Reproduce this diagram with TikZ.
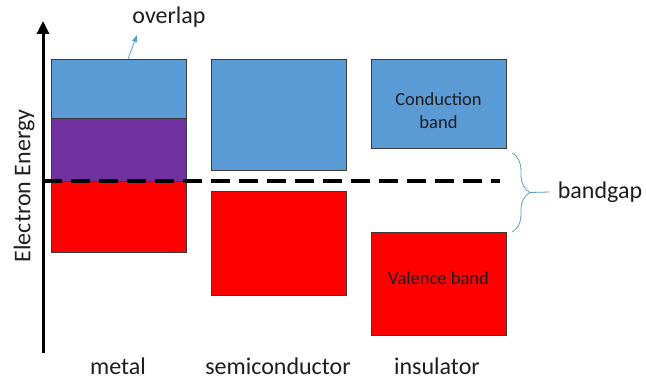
\documentclass[tikz,border=0pt]{standalone}
\usepackage{fontspec}
\setmainfont{Carlito}
\usetikzlibrary{arrows.meta,decorations.pathreplacing,calc}
\definecolor{cband}{HTML}{5B9BD5}
\definecolor{vband}{HTML}{FF0000}
\definecolor{oband}{HTML}{7030A0}
\definecolor{edge}{HTML}{3A3A3A}
\definecolor{txt}{HTML}{1E1E1E}
\tikzset{
  band/.style={draw=edge, line width=0.9pt, inner sep=0pt, minimum width=135pt, text=txt, font=\fontsize{18.5}{23}\selectfont, align=center},
  lbl/.style={text=txt, font=\fontsize{24}{28}\selectfont, inner sep=0pt},
  accent/.style={draw=cband, line width=0.8pt}
}
\begin{document}
\begin{tikzpicture}[x=1pt,y=-1pt]
  \useasboundingbox (0,0) rectangle (646,379);
  % metal: conduction band, overlap region, valence band
  \node[band, fill=cband, minimum height=59pt] (mc) at (118.5,88.5) {};
  \node[band, fill=oband, minimum height=63pt] (mo) at (118.5,149.5) {};
  \node[band, fill=vband, minimum height=71pt] (mv) at (118.5,216.5) {};
  % semiconductor
  \node[band, fill=cband, minimum height=111pt] (sc) at (278.5,114.5) {};
  \node[band, fill=vband, minimum height=104pt] (sv) at (278.5,243) {};
  % insulator
  \node[band, fill=cband, minimum height=89pt] (ic) at (438.5,103.5) {};
  \node[band, fill=vband, minimum height=103pt] (iv) at (438.5,283.5) {};
  \node[band, draw=none, anchor=center] (ict) at (438.5,111) {Conduction\\band};
  \node[band, draw=none, anchor=center] (ivt) at (438.5,278) {Valence band};
  % energy axis
  \coordinate (a0) at (43,353);
  \coordinate (a1) at (43,21);
  \draw[line width=3pt, -{Triangle[length=13pt,width=12pt]}] (a0) -- (a1);
  \node[lbl, rotate=90] (axl) at (24,186) {Electron Energy};
  % Fermi level
  \coordinate (f0) at (43,181);
  \coordinate (f1) at (500,181);
  \draw[line width=3.5pt, dash pattern=on 19pt off 9pt] (f0) -- (f1);
  % overlap label and pointer
  \node[lbl] (ov) at (169,17) {overlap};
  \coordinate (op) at (128,59);
  \coordinate (ot) at (137,35);
  \draw[accent, -{Triangle[length=7pt,width=5pt]}] (op) -- (ot);
  % bandgap brace
  \coordinate (b0) at (512,153);
  \coordinate (b1) at (512,232);
  \coordinate (bt) at (530,192.5);
  \draw[accent, decorate, decoration={brace, amplitude=18pt}] (b0) -- (b1);
  \node[lbl] (bg) at (600,192) {bandgap};
  \draw[accent] (bt) -- (bg.west -| 550,0);
  % material names
  \node[lbl] (lm) at (118,366) {metal};
  \node[lbl] (ls) at (278,366) {semiconductor};
  \node[lbl] (li) at (437,366) {insulator};
\end{tikzpicture}
\end{document}
